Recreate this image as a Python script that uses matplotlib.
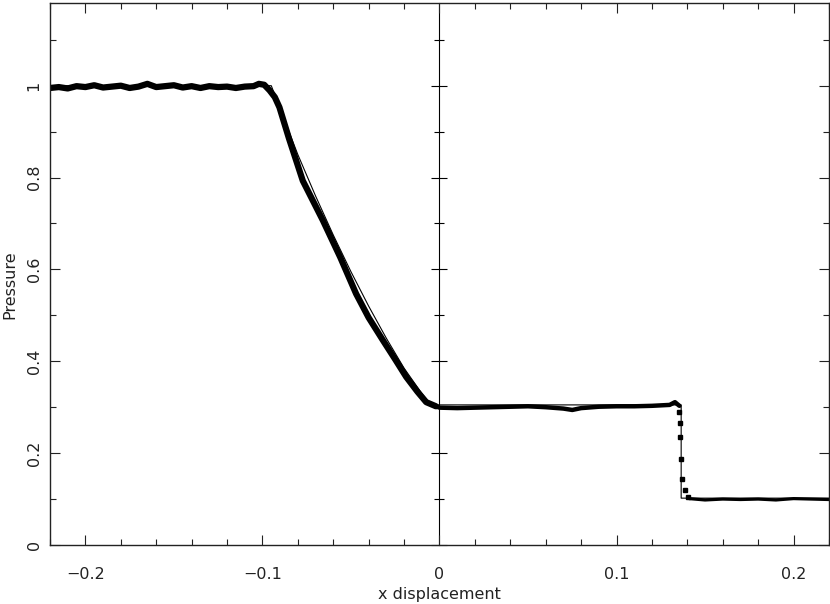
import matplotlib
matplotlib.use("Agg")
import matplotlib.pyplot as plt
from matplotlib.ticker import MultipleLocator

# analytic solution (thin line)
exact_x = [-0.22, -0.095, -0.088, -0.080, -0.070, -0.060, -0.050, -0.040,
           -0.030, -0.020, -0.010, -0.005, 0.1365, 0.1365, 0.22]
exact_y = [1.0, 1.0, 0.93, 0.85, 0.76, 0.675, 0.595, 0.52,
           0.45, 0.385, 0.33, 0.305, 0.305, 0.102, 0.102]

# particle data band: left state + rarefaction
band_x = [-0.22, -0.215, -0.21, -0.205, -0.20, -0.195, -0.19, -0.185, -0.18,
          -0.175, -0.17, -0.165, -0.16, -0.155, -0.15, -0.145, -0.14, -0.135,
          -0.13, -0.125, -0.12, -0.115, -0.11, -0.105, -0.102, -0.099,
          -0.096, -0.093, -0.0904, -0.085, -0.0772, -0.0659, -0.056,
          -0.0471, -0.040, -0.032, -0.025, -0.0188, -0.0125, -0.0075, -0.002]
band_y = [0.995, 0.997, 0.994, 0.999, 0.997, 1.001, 0.996, 0.998, 1.0,
          0.995, 0.998, 1.004, 0.997, 0.999, 1.001, 0.996, 0.999, 0.995,
          0.999, 0.997, 0.998, 0.995, 0.998, 0.999, 1.004, 1.002,
          0.99, 0.975, 0.953, 0.885, 0.793, 0.707, 0.626,
          0.547, 0.495, 0.446, 0.404, 0.366, 0.334, 0.311, 0.302]

# contact plateau
mid_x = [-0.002, 0.0, 0.01, 0.02, 0.03, 0.04, 0.05, 0.06, 0.07, 0.075, 0.08,
         0.09, 0.10, 0.11, 0.12, 0.13, 0.133, 0.1355]
mid_y = [0.302, 0.299, 0.298, 0.299, 0.300, 0.301, 0.302, 0.300, 0.297,
         0.294, 0.298, 0.301, 0.302, 0.302, 0.303, 0.305, 0.311, 0.303]

# particles inside the shock
shock_x = [0.1355, 0.1357, 0.1358, 0.1362, 0.1372, 0.1385, 0.1405]
shock_y = [0.29, 0.265, 0.235, 0.187, 0.143, 0.120, 0.105]

# post-shock right state
right_x = [0.141, 0.15, 0.16, 0.17, 0.18, 0.19, 0.20, 0.21, 0.22]
right_y = [0.101, 0.098, 0.100, 0.099, 0.100, 0.098, 0.101, 0.100, 0.099]

txt = "#222222"
fig = plt.figure(figsize=(8.3, 6.04), dpi=100)
ax = fig.add_axes([0.0602, 0.0977, 0.9386, 0.8973])

ax.plot(band_x, band_y, color="black", lw=4.5, solid_capstyle="round",
        solid_joinstyle="round")
ax.plot(mid_x, mid_y, color="black", lw=3.2, solid_capstyle="round",
        solid_joinstyle="round")
ax.plot(right_x, right_y, color="black", lw=2.3, solid_capstyle="round")
ax.plot(shock_x, shock_y, "s", color="black", ms=2.5)
ax.plot(exact_x, exact_y, color="black", lw=0.8)

ax.set_xlim(-0.22, 0.22)
ax.set_ylim(0, 1.18)
ax.xaxis.set_major_locator(MultipleLocator(0.1))
ax.xaxis.set_minor_locator(MultipleLocator(0.02))
ax.yaxis.set_major_locator(MultipleLocator(0.2))
ax.yaxis.set_minor_locator(MultipleLocator(0.1))
ax.tick_params(which="both", direction="in", top=True, right=True,
               width=0.8, colors=txt, labelsize=11.5)
ax.tick_params(which="major", length=7)
ax.tick_params(which="minor", length=4)
ax.tick_params(axis="y", labelrotation=90, pad=6)
ax.tick_params(axis="x", pad=16)
for lbl in ax.get_yticklabels():
    lbl.set_va("center")
ax.xaxis.set_major_formatter(plt.FuncFormatter(lambda v, p: f"{v:g}".replace("-", "\u2212")))
ax.yaxis.set_major_formatter(plt.FuncFormatter(lambda v, p: f"{v:g}"))
for s in ax.spines.values():
    s.set_color(txt)
    s.set_linewidth(1.0)

# axis line through x = 0
sec = ax.secondary_yaxis(0.5)
sec.spines["left"].set_color("#888888")
sec.spines["left"].set_linewidth(1.2)
sec.yaxis.set_major_locator(MultipleLocator(0.2))
sec.yaxis.set_minor_locator(MultipleLocator(0.1))
sec.tick_params(which="both", direction="inout", colors="black",
                labelleft=False, labelright=False, width=0.8)
sec.tick_params(which="major", length=12)
sec.tick_params(which="minor", length=7)

ax.set_xlabel("x displacement", fontsize=11.5, color=txt, va="center")
ax.set_ylabel("Pressure", fontsize=11.5, color=txt, va="center")
ax.xaxis.set_label_coords(0.5, -0.0905)
ax.yaxis.set_label_coords(-0.052, 0.48)

fig.savefig("out.png", dpi=100)
